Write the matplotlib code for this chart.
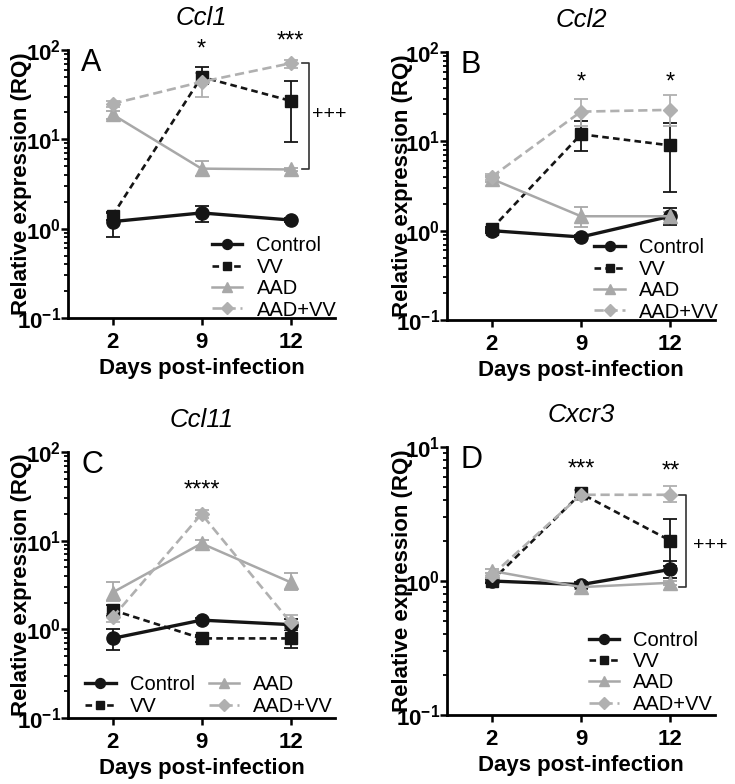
import numpy as np
import matplotlib
matplotlib.use("Agg")
import matplotlib.pyplot as plt
from matplotlib.ticker import FixedLocator, FuncFormatter, LogLocator, NullFormatter

plt.rcParams['font.family'] = ['Liberation Sans', 'DejaVu Sans']
plt.rcParams['mathtext.fontset'] = 'custom'
plt.rcParams['mathtext.rm'] = 'Liberation Sans:bold'
plt.rcParams['mathtext.bf'] = 'Liberation Sans:bold'
plt.rcParams['mathtext.it'] = 'Liberation Sans:bold:italic'

days = ["2", "9", "12"]
groups = ["Control", "VV", "AAD", "AAD+VV"]

# Panel A: Ccl1
a_ctrl = [1.2, 1.5, 1.25];   a_ctrl_lo = [0.8, 1.2, 1.2];   a_ctrl_hi = [1.5, 1.8, 1.3]
a_vv = [1.4, 50, 27];        a_vv_lo = [1.25, 42, 9.3];     a_vv_hi = [1.55, 64, 45]
a_aad = [19, 4.7, 4.6];      a_aad_lo = [17, 3.9, 4.4];     a_aad_hi = [21, 5.7, 4.8]
a_aadvv = [25, 44, 71];      a_aadvv_lo = [23, 30, 63];     a_aadvv_hi = [27, 55, 78]

# Panel B: Ccl2
b_ctrl = [1.0, 0.85, 1.45];  b_ctrl_lo = [0.95, 0.8, 1.15]; b_ctrl_hi = [1.05, 0.9, 1.8]
b_vv = [1.05, 12, 9];        b_vv_lo = [1.0, 7.8, 2.7];     b_vv_hi = [1.1, 17, 16]
b_aad = [3.8, 1.45, 1.45];   b_aad_lo = [3.5, 1.1, 1.3];    b_aad_hi = [4.1, 1.85, 1.6]
b_aadvv = [4.0, 21.5, 22.5]; b_aadvv_lo = [3.7, 15, 15];    b_aadvv_hi = [4.3, 30, 33]

# Panel C: Ccl11
c_ctrl = [0.79, 1.27, 1.13]; c_ctrl_lo = [0.58, 1.2, 1.0];  c_ctrl_hi = [1.0, 1.35, 1.3]
c_vv = [1.65, 0.79, 0.79];   c_vv_lo = [1.4, 0.72, 0.62];   c_vv_hi = [1.9, 0.86, 0.98]
c_aad = [2.6, 9.3, 3.4];     c_aad_lo = [2.1, 8.5, 2.8];    c_aad_hi = [3.4, 10.2, 4.3]
c_aadvv = [1.36, 20, 1.2];   c_aadvv_lo = [1.2, 18, 1.0];   c_aadvv_hi = [1.5, 22, 1.45]

# Panel D: Cxcr3
d_ctrl = [1.0, 0.94, 1.22];  d_ctrl_lo = [0.97, 0.9, 1.05]; d_ctrl_hi = [1.03, 0.98, 1.4]
d_vv = [1.0, 4.5, 2.0];      d_vv_lo = [0.97, 4.2, 1.3];    d_vv_hi = [1.03, 4.8, 2.9]
d_aad = [1.19, 0.9, 0.97];   d_aad_lo = [1.15, 0.87, 0.94]; d_aad_hi = [1.23, 0.93, 1.0]
d_aadvv = [1.1, 4.4, 4.4];   d_aadvv_lo = [1.05, 4.0, 3.9]; d_aadvv_hi = [1.15, 4.8, 5.1]

BLACK = '#151515'
GRAY = '#a8a8a8'
GRAY2 = '#b0b0b0'

styles = [
    dict(color=BLACK, marker='o', ms=9.5, lw=2.4, ls='-'),
    dict(color=BLACK, marker='s', ms=8.5, lw=1.9, ls=(0, (2.5, 1.6))),
    dict(color=GRAY, marker='^', ms=10, lw=1.8, ls='-'),
    dict(color=GRAY2, marker='D', ms=7.5, lw=1.9, ls=(0, (3.5, 1.8))),
]

fig = plt.figure(figsize=(7.35, 7.84), dpi=100)

panels = [
    dict(pos=[68/735, 1-318/784, 267/735, 268/784], title='Ccl1', letter='A',
         data=[(a_ctrl, a_ctrl_lo, a_ctrl_hi), (a_vv, a_vv_lo, a_vv_hi),
               (a_aad, a_aad_lo, a_aad_hi), (a_aadvv, a_aadvv_lo, a_aadvv_hi)],
         ylim=(0.1, 100), leg=dict(ncol=1, anchor=(0.54, 0.305)),
         stars=[(1, 1.0, '*'), (2, 1.03, '***')],
         bracket=(2.21, 71, 4.6, 2.44, 19), ylab_x=-0.135),
    dict(pos=[447/735, 1-320/784, 268/735, 268/784], title='Ccl2', letter='B',
         data=[(b_ctrl, b_ctrl_lo, b_ctrl_hi), (b_vv, b_vv_lo, b_vv_hi),
               (b_aad, b_aad_lo, b_aad_hi), (b_aadvv, b_aadvv_lo, b_aadvv_hi)],
         ylim=(0.1, 100), leg=dict(ncol=1, anchor=(0.55, 0.305)),
         stars=[(1, 0.885, '*'), (2, 0.885, '*')], bracket=None, ylab_x=-0.127),
    dict(pos=[68/735, 1-718/784, 267/735, 266/784], title='Ccl11', letter='C',
         data=[(c_ctrl, c_ctrl_lo, c_ctrl_hi), (c_vv, c_vv_lo, c_vv_hi),
               (c_aad, c_aad_lo, c_aad_hi), (c_aadvv, c_aadvv_lo, c_aadvv_hi)],
         ylim=(0.1, 100), leg=dict(ncol=2, anchor=(0.065, 0.16)),
         stars=[(1, 0.855, '****')], bracket=None, ylab_x=-0.135),
    dict(pos=[447/735, 1-715/784, 268/735, 268/784], title='Cxcr3', letter='D',
         data=[(d_ctrl, d_ctrl_lo, d_ctrl_hi), (d_vv, d_vv_lo, d_vv_hi),
               (d_aad, d_aad_lo, d_aad_hi), (d_aadvv, d_aadvv_lo, d_aadvv_hi)],
         ylim=(0.1, 10), leg=dict(ncol=1, anchor=(0.53, 0.315)),
         stars=[(1, 0.915, '***'), (2, 0.91, '**')],
         bracket=(2.18, 4.4, 0.9, 2.45, 1.85), ylab_x=-0.127),
]

def fmt(v, pos):
    e = int(round(np.log10(v)))
    return r'$\mathbf{10^{%d}}$' % e

x = np.arange(len(days))
for p in panels:
    ax = fig.add_axes(p['pos'])
    ax.set_yscale('log')
    for (vals, lo, hi), st, name in zip(p['data'], styles, groups):
        vals = np.array(vals); lo = np.array(lo); hi = np.array(hi)
        yerr = np.vstack([vals - lo, hi - vals])
        ax.errorbar(x, vals, yerr=yerr, fmt='none', ecolor=st['color'],
                    elinewidth=1.3, capsize=5, capthick=1.3, zorder=2)
        ax.plot(x, vals, color=st['color'], marker=st['marker'], ms=st['ms'],
                lw=st['lw'], ls=st['ls'], label=name, zorder=3,
                markeredgecolor=st['color'])
    ax.set_xlim(-0.5, 2.5)
    ax.set_ylim(*p['ylim'])
    ax.set_xticks(x)
    ax.set_xticklabels(days, fontsize=16, fontweight='bold')
    lo_e = int(np.log10(p['ylim'][0])); hi_e = int(np.log10(p['ylim'][1]))
    ax.yaxis.set_major_locator(FixedLocator([10.0**e for e in range(lo_e, hi_e + 1)]))
    ax.yaxis.set_major_formatter(FuncFormatter(fmt))
    ax.yaxis.set_minor_locator(LogLocator(base=10, subs=np.arange(2, 10), numticks=20))
    ax.yaxis.set_minor_formatter(NullFormatter())
    ax.tick_params(axis='y', which='major', labelsize=16, length=5, width=1.8, pad=0)
    ax.tick_params(axis='y', which='minor', length=3, width=1.3)
    ax.tick_params(axis='x', which='major', length=5, width=1.8, pad=5)
    for s in ['top', 'right']:
        ax.spines[s].set_visible(False)
    for s in ['left', 'bottom']:
        ax.spines[s].set_linewidth(2)
    ax.set_xlabel('Days post-infection', fontsize=16, fontweight='bold', labelpad=4)
    ax.set_ylabel('Relative expression (RQ)', fontsize=16, fontweight='bold')
    ax.yaxis.set_label_coords(p['ylab_x'], 0.5)
    ax.set_title(p['title'], fontsize=18.5, style='italic', pad=18)
    ax.text(0.05, 0.95, p['letter'], transform=ax.transAxes, fontsize=22,
            ha='left', va='center')
    for sx, sy, s in p['stars']:
        ax.text(sx, sy, s, transform=ax.get_xaxis_transform(), fontsize=17,
                ha='center', va='center', clip_on=False)
    if p['bracket']:
        bx, ytop, ybot, tx, ty = p['bracket']
        ax.plot([bx - 0.08, bx, bx, bx - 0.08], [ytop, ytop, ybot, ybot],
                color='#333333', lw=1.2, clip_on=False, zorder=1)
        ax.text(tx, ty, '+++', fontsize=14, ha='center', va='center', clip_on=False)
    leg = ax.legend(loc='upper left', bbox_to_anchor=p['leg']['anchor'],
                    ncol=p['leg']['ncol'], frameon=False, fontsize=14.5,
                    handlelength=1.5, handletextpad=0.7, labelspacing=0.12,
                    borderpad=0, borderaxespad=0, columnspacing=0.7,
                    markerscale=0.75)

fig.savefig('out.png', dpi=100)
